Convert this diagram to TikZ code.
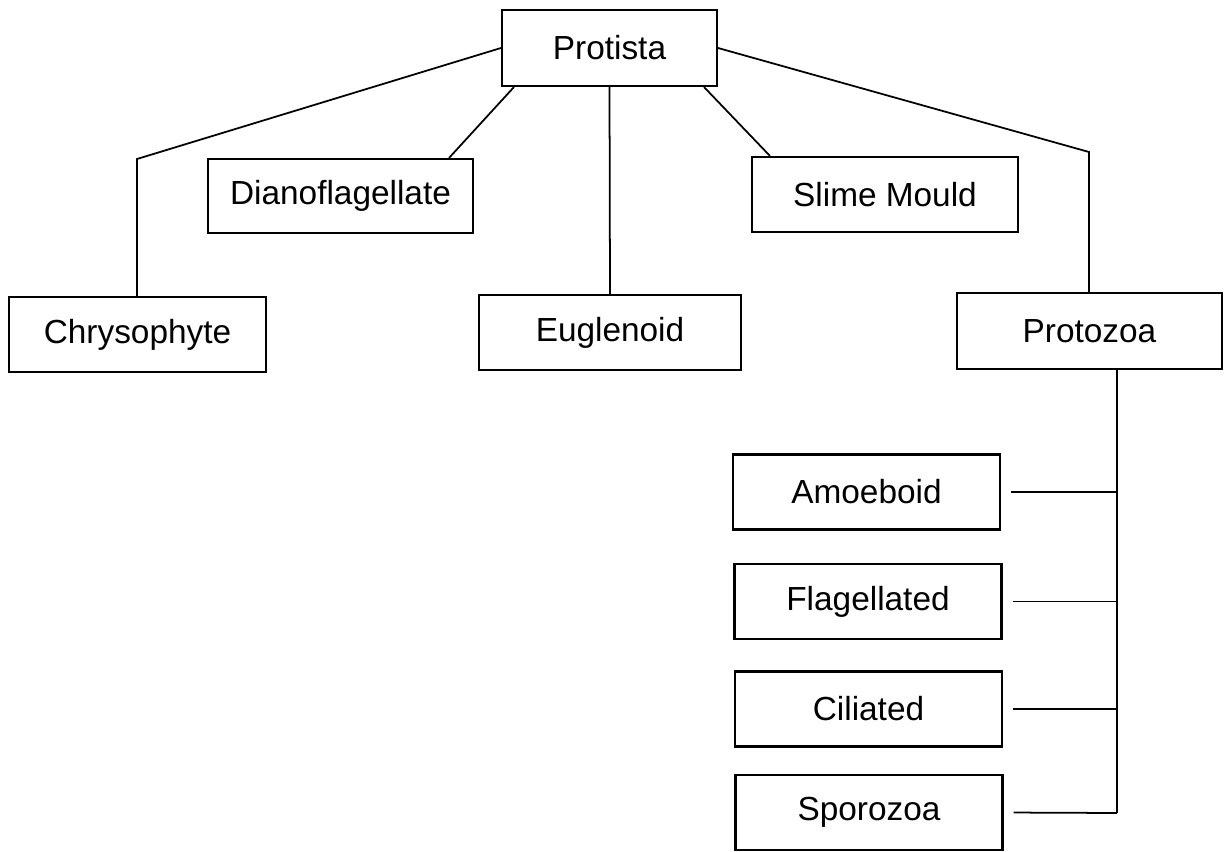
\documentclass[tikz,border=0pt]{standalone}
\usepackage{fontspec}
\setmainfont{Liberation Sans}
\usepackage{tikz}
\usetikzlibrary{calc}

\begin{document}
\begin{tikzpicture}[
  x=0.02cm, y=-0.02cm,
  taxon/.style={rectangle, draw=black, line width=1.2pt, fill=white, inner sep=0pt, minimum height=1.5cm, font=\fontsize{19}{22}\selectfont},
  subtaxon/.style={taxon, minimum width=5.34cm},
  link/.style={line width=1pt, black},
]
\useasboundingbox (0,0) rectangle (1225,852);

% Kingdom
\node[taxon, minimum width=4.3cm, minimum height=1.52cm] (protista) at (609.5, 48) {Protista};

% Groups
\node[taxon, minimum width=5.3cm, minimum height=1.48cm] (dino) at (340.5, 196) {Dianoflagellate};
\node[taxon, minimum width=5.32cm] (slime) at (885, 194.5) {Slime Mould};
\node[taxon, minimum width=5.14cm] (chryso) at (137.5, 334.5) {Chrysophyte};
\node[taxon, minimum width=5.24cm] (eugl) at (610, 332.5) {Euglenoid};
\node[taxon, minimum width=5.3cm, minimum height=1.52cm] (protozoa) at (1089.5, 331) {Protozoa};

% Protozoa types
\node[subtaxon] (amoeboid) at (866.5, 492) {Amoeboid};
\node[subtaxon] (flag) at (868, 601.5) {Flagellated};
\node[subtaxon] (cil) at (868.5, 709) {Ciliated};
\node[subtaxon] (sporo) at (869, 812.5) {Sporozoa};

% Bends
\coordinate (lbend) at (137, 159);
\coordinate (rbend) at (1089, 152);
\coordinate (pbot) at (1117, 813);

% Protista -> groups
\draw[link] (protista.west) -- (lbend) -- (lbend |- chryso.north);
\draw[link] ([xshift=0.26cm]protista.south west) -- ([xshift=-0.5cm]dino.north east);
\draw[link] (protista.south) -- (eugl.north);
\draw[link] ([xshift=-0.28cm]protista.south east) -- ([xshift=0.38cm]slime.north west);
\draw[link] (protista.east) -- (rbend) -- (rbend |- protozoa.north);

% Protozoa -> types
\draw[link] (protozoa.south -| pbot) -- (pbot);
\draw[link, shorten <=0.2cm] (amoeboid.east) -- (amoeboid.east -| pbot);
\draw[link, shorten <=0.2cm] (flag.east) -- (flag.east -| pbot);
\draw[link, shorten <=0.2cm] (cil.east) -- (cil.east -| pbot);
\draw[link, shorten <=0.2cm] (sporo.east) -- (pbot);

\end{tikzpicture}
\end{document}
